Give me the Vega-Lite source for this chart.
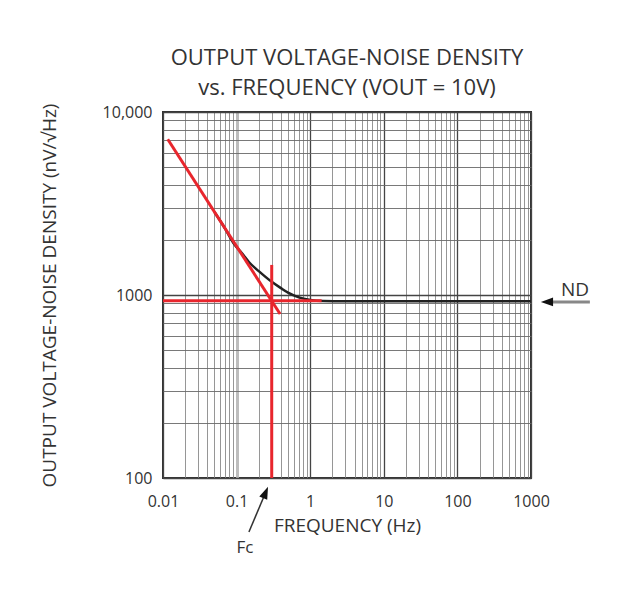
{
  "$schema": "https://vega.github.io/schema/vega-lite/v6.json",
  "width": 368,
  "height": 366,
  "autosize": "none",
  "padding": {"left": 163, "top": 112, "right": 87, "bottom": 114},
  "background": "white",
  "config": {
    "font": "Open Sans",
    "view": {"stroke": "#333", "strokeWidth": 2}
  },
  "title": {
    "text": ["OUTPUT VOLTAGE-NOISE DENSITY", "vs. FREQUENCY (VOUT = 10V)"],
    "fontSize": 22,
    "fontWeight": "normal",
    "color": "#333",
    "lineHeight": 30,
    "offset": 3,
    "anchor": "middle"
  },
  "datasets": {
    "curve": [
      {"f": 0.05, "v": 2840}, {"f": 0.07, "v": 2300}, {"f": 0.09, "v": 1930},
      {"f": 0.12, "v": 1680}, {"f": 0.15, "v": 1500}, {"f": 0.2, "v": 1350},
      {"f": 0.3, "v": 1180}, {"f": 0.4, "v": 1090}, {"f": 0.5, "v": 1030},
      {"f": 0.7, "v": 970}, {"f": 1, "v": 940}, {"f": 1.5, "v": 928},
      {"f": 3, "v": 925}, {"f": 10, "v": 925}, {"f": 100, "v": 925}, {"f": 1000, "v": 925}
    ],
    "asymptotes": [
      {"f": 0.0116, "v": 7100, "f2": 0.39, "v2": 787},
      {"f": 0.01, "v": 930, "f2": 1.43, "v2": 930},
      {"f": 0.3, "v": 100, "f2": 0.3, "v2": 1460}
    ],
    "fcArrow": [{"f": 0.147, "v": 50.7, "f2": 0.25, "v2": 84}],
    "fcHead": [{"f": 0.248, "v": 83.4}],
    "fcText": [{"f": 0.13, "v": 41.4, "label": "Fc"}],
    "ndArrow": [{"f": 1650, "v": 917, "f2": 6310, "v2": 917}],
    "ndHead": [{"f": 1648, "v": 917}],
    "ndText": [{"f": 3964, "v": 1060, "label": "ND"}]
  },
  "layer": [
    {
      "data": {"name": "curve"},
      "mark": {"type": "line", "color": "#222", "strokeWidth": 2.5, "interpolate": "monotone"},
      "encoding": {
        "x": {
          "field": "f", "type": "quantitative",
          "scale": {"type": "log", "domain": [0.01, 1000], "nice": false},
          "axis": {
            "values": [0.01,0.02,0.03,0.04,0.05,0.06,0.07,0.08,0.09,0.1,0.2,0.3,0.4,0.5,0.6,0.7,0.8,0.9,1,2,3,4,5,6,7,8,9,10,20,30,40,50,60,70,80,90,100,200,300,400,500,600,700,800,900,1000],
            "grid": true,
            "ticks": false,
            "domain": false,
            "labelExpr": "abs(log(datum.value)/LN10 - round(log(datum.value)/LN10)) < 0.001 ? format(datum.value, '~g') : ''",
            "labelOverlap": false,
            "labelFlush": false,
            "labelFontSize": 16,
            "labelColor": "#333",
            "labelPadding": 15,
            "gridColor": {"condition": [
              {"test": "abs(datum.value - 0.1) < 0.0001", "value": "#bdbdbd"},
              {"test": "abs(log(datum.value)/LN10 - round(log(datum.value)/LN10)) < 0.001", "value": "#444"}
            ], "value": "#8a8a8a"},
            "gridWidth": {"condition": [
              {"test": "abs(datum.value - 0.1) < 0.0001", "value": 3},
              {"test": "abs(log(datum.value)/LN10 - round(log(datum.value)/LN10)) < 0.001", "value": 1.3}
            ], "value": 0.9},
            "gridOpacity": 1,
            "title": "FREQUENCY (Hz)",
            "titleFontSize": 19,
            "titleFontWeight": "normal",
            "titleColor": "#333",
            "titlePadding": 7
          }
        },
        "y": {
          "field": "v", "type": "quantitative",
          "scale": {"type": "log", "domain": [100, 10000], "nice": false},
          "axis": {
            "values": [100,200,300,400,500,600,700,800,900,1000,2000,3000,4000,5000,6000,7000,8000,9000,10000],
            "grid": true,
            "ticks": false,
            "domain": false,
            "labelExpr": "datum.value == 10000 ? '10,000' : (datum.value == 1000 || datum.value == 100 ? format(datum.value, 'd') : '')",
            "labelOverlap": false,
            "labelFlush": false,
            "labelFontSize": 16,
            "labelColor": "#333",
            "labelPadding": 11,
            "gridColor": {"condition": {"test": "datum.value == 100 || datum.value == 1000 || datum.value == 10000", "value": "#444"}, "value": "#6a6a6a"},
            "gridWidth": {"condition": {"test": "datum.value == 100 || datum.value == 1000 || datum.value == 10000", "value": 1.3}, "value": 0.9},
            "gridOpacity": 1,
            "title": "OUTPUT VOLTAGE-NOISE DENSITY (nV/√Hz)",
            "titleFontSize": 19,
            "titleFontWeight": "normal",
            "titleColor": "#333",
            "titlePadding": 43
          }
        }
      }
    },
    {
      "data": {"name": "asymptotes"},
      "mark": {"type": "rule", "color": "#e8262d", "strokeWidth": 3},
      "encoding": {
        "x": {"field": "f", "type": "quantitative"},
        "y": {"field": "v", "type": "quantitative"},
        "x2": {"field": "f2"},
        "y2": {"field": "v2"}
      }
    },
    {
      "data": {"name": "fcArrow"},
      "mark": {"type": "rule", "color": "#333", "strokeWidth": 1.5},
      "encoding": {
        "x": {"field": "f", "type": "quantitative"},
        "y": {"field": "v", "type": "quantitative"},
        "x2": {"field": "f2"},
        "y2": {"field": "v2"}
      }
    },
    {
      "data": {"name": "fcHead"},
      "mark": {"type": "point", "shape": "M0,-1L0.7,1L-0.7,1Z", "filled": true, "color": "#111", "size": 150, "angle": 23, "opacity": 1},
      "encoding": {
        "x": {"field": "f", "type": "quantitative"},
        "y": {"field": "v", "type": "quantitative"}
      }
    },
    {
      "data": {"name": "fcText"},
      "mark": {"type": "text", "fontSize": 17, "color": "#333"},
      "encoding": {
        "x": {"field": "f", "type": "quantitative"},
        "y": {"field": "v", "type": "quantitative"},
        "text": {"field": "label"}
      }
    },
    {
      "data": {"name": "ndArrow"},
      "mark": {"type": "rule", "color": "#888", "strokeWidth": 3},
      "encoding": {
        "x": {"field": "f", "type": "quantitative"},
        "y": {"field": "v", "type": "quantitative"},
        "x2": {"field": "f2"},
        "y2": {"field": "v2"}
      }
    },
    {
      "data": {"name": "ndHead"},
      "mark": {"type": "point", "shape": "M-1,0L1,-0.7L1,0.7Z", "filled": true, "color": "#111", "size": 150, "opacity": 1},
      "encoding": {
        "x": {"field": "f", "type": "quantitative"},
        "y": {"field": "v", "type": "quantitative"}
      }
    },
    {
      "data": {"name": "ndText"},
      "mark": {"type": "text", "fontSize": 19, "color": "#333"},
      "encoding": {
        "x": {"field": "f", "type": "quantitative"},
        "y": {"field": "v", "type": "quantitative"},
        "text": {"field": "label"}
      }
    }
  ]
}
